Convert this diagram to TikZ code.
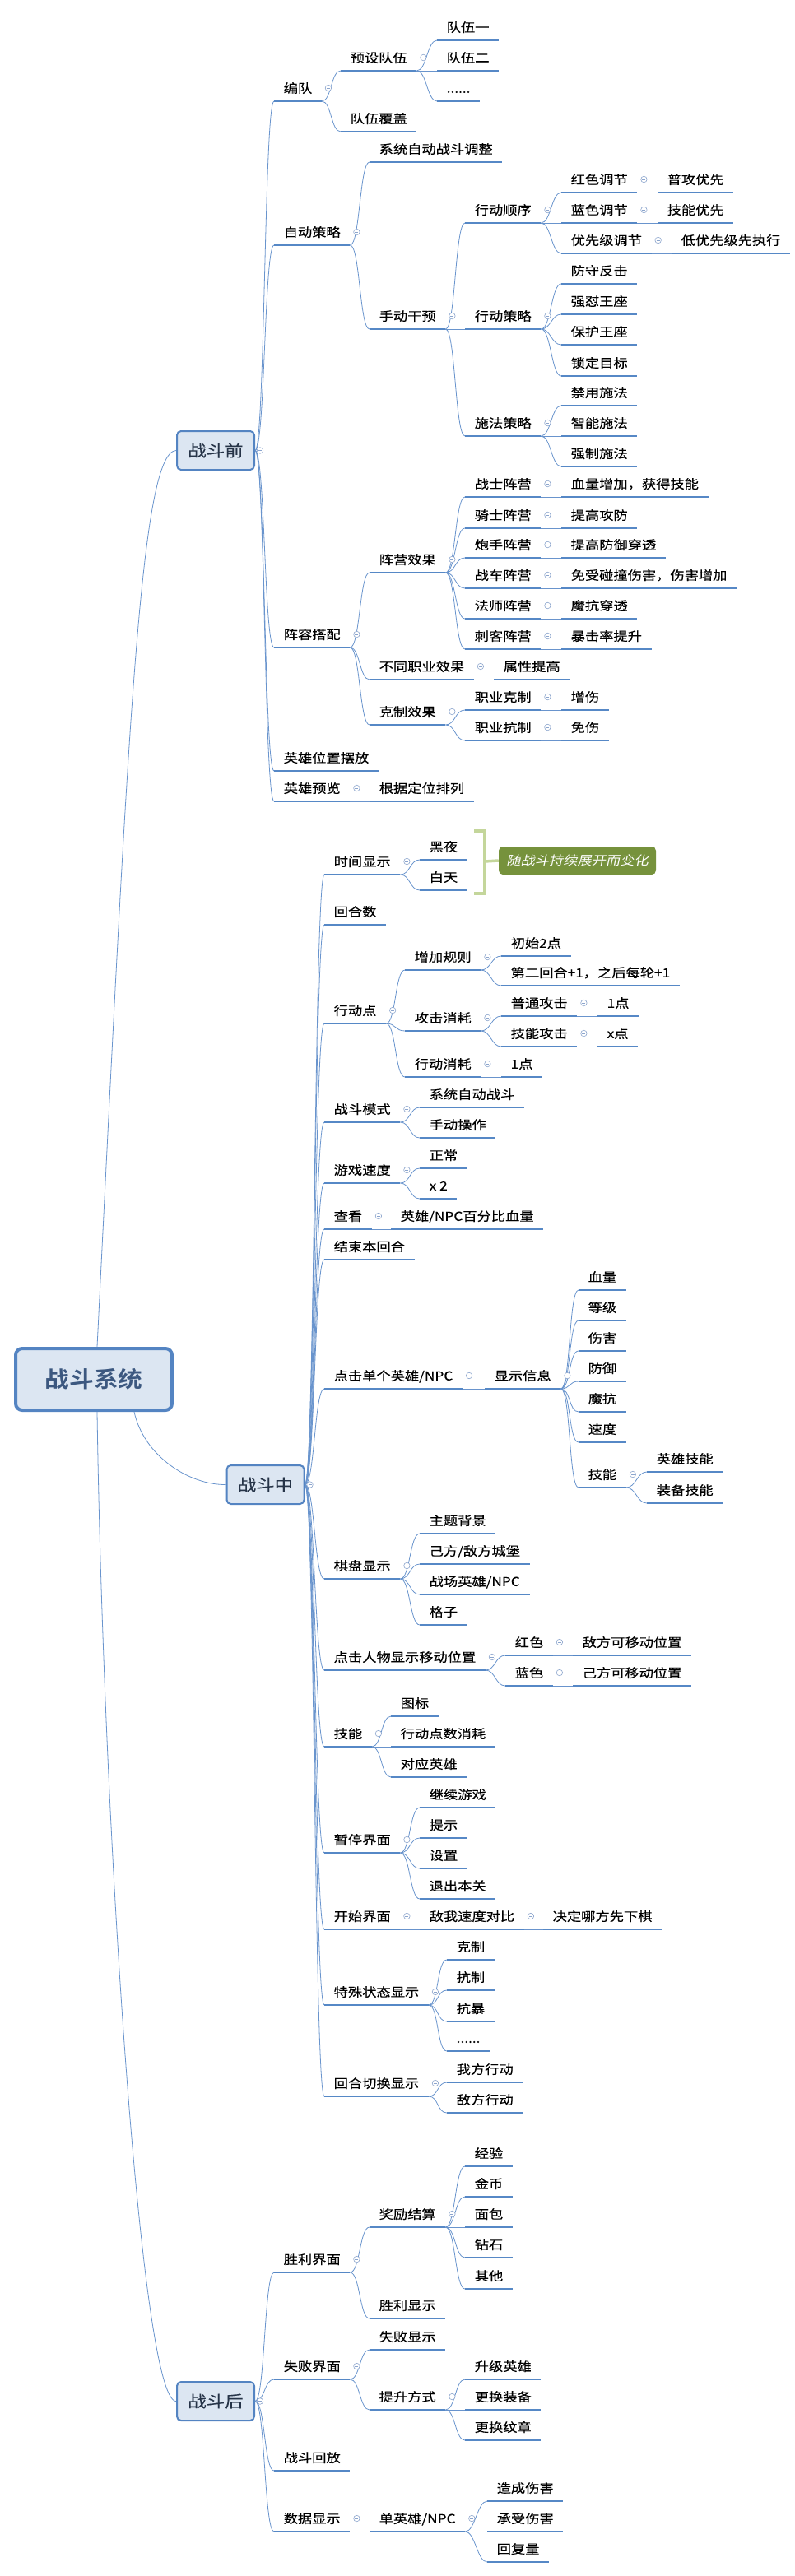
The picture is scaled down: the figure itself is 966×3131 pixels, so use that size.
\documentclass[tikz,border=0pt]{standalone}
\usepackage{fontspec}
\setmainfont{Noto Sans CJK SC}[FakeStretch=1.15,FakeBold=0.25]
\newfontfamily\slantfont{Noto Sans CJK SC}[FakeStretch=1.15,FakeSlant=0.22]
\newfontfamily\rootfont{Noto Sans CJK SC Bold}[FakeStretch=1.1]
\definecolor{ulc}{RGB}{86,136,198}
\definecolor{connc}{RGB}{105,148,205}
\definecolor{iconc}{RGB}{140,165,205}
\definecolor{boxfill}{RGB}{220,230,242}
\definecolor{boxline}{RGB}{84,132,194}
\definecolor{boxtext}{RGB}{38,52,72}
\definecolor{roottext}{RGB}{60,88,128}
\definecolor{brk}{RGB}{196,214,155}
\definecolor{olive}{RGB}{118,146,60}
\tikzset{
  uline/.style={draw=ulc, line width=2.4pt},
  item/.style={anchor=south west, inner xsep=11.5pt, inner ysep=0pt,
     text height=12pt, text depth=10pt, font=\fontsize{15}{15}\selectfont,
     append after command={(\tikzlastnode.south west) edge[uline] (\tikzlastnode.south east)}},
  conn/.style={draw=connc, line width=0.8pt},
  lvbox/.style={draw=boxline, line width=2pt, fill=boxfill, rounded corners=5pt,
     minimum width=94pt, minimum height=47pt, inner sep=0pt,
     font=\fontsize{19.5}{19.5}\selectfont, text=boxtext},
  rootbox/.style={draw=boxline, line width=4pt, fill=boxfill, rounded corners=8pt,
     minimum width=190pt, minimum height=75pt, inner sep=0pt,
     font=\rootfont\fontsize{27}{27}\selectfont, text=roottext},
  mmicon/.style={circle, draw=iconc, line width=0.6pt, fill=white, minimum size=7.5pt, inner sep=0pt,
     path picture={\draw[iconc, line width=0.6pt] ([xshift=-2pt]path picture bounding box.center) -- ([xshift=2pt]path picture bounding box.center);}},
  callout/.style={fill=olive, rounded corners=5pt, minimum width=191pt, minimum height=34pt, inner sep=0pt,
     font=\slantfont\fontsize{15}{15}\selectfont, text=white},
  bracket/.style={draw=brk, line width=3.5pt},
}
\newcommand\mmlink[2]{\draw[conn] (#1.south east) .. controls +(12,0) and +(-12,0) .. (#2.south west);}
\newcommand\mmboxlink[2]{\draw[conn] (#1.east) .. controls +(12,0) and +(-12,0) .. (#2.south west);}
\newcommand\mmic[1]{\node[mmicon] (ic-#1) at ([xshift=8pt,yshift=16pt]#1.south east) {};}
\newcommand\mmbic[1]{\node[mmicon] (ic-#1) at ([xshift=6pt]#1.east) {};}
\begin{document}
\begin{tikzpicture}[x=1pt,y=-1pt]
\fill[white] (0,0) rectangle (966,3131);
\useasboundingbox (0,0) rectangle (966,3131);

% ---------------- main boxes
\node[rootbox] (root) at (114,1676.5) {战斗系统};
\node[lvbox] (pre) at (262,547.5) {战斗前};
\node[lvbox] (mid) at (322.5,1804.5) {战斗中};
\node[lvbox] (post) at (262,2918.5) {战斗后};

\draw[conn] ([xshift=4pt]root.north) .. controls (155,900) and (170,549) .. (pre.west);
\draw[conn] ([xshift=49pt]root.south) .. controls (175,1770) and (230,1805) .. (mid.west);
\draw[conn] ([xshift=4pt]root.south) .. controls (125,2200) and (170,2919) .. (post.west);

% ---------------- 战斗前
\node[item] (a1) at (333,123) {编队};
\node[item] (a2) at (333,298) {自动策略};
\node[item] (a3) at (333,787) {阵容搭配};
\node[item] (a4) at (333,937) {英雄位置摆放};
\node[item] (a5) at (333,974) {英雄预览};
\node[item] (a11) at (414,86) {预设队伍};
\node[item] (a12) at (414,160) {队伍覆盖};
\node[item] (a111) at (531,49) {队伍一};
\node[item] (a112) at (531,86) {队伍二};
\node[item] (a113) at (531,123) {......};
\node[item] (a21) at (449,197) {系统自动战斗调整};
\node[item] (a22) at (449,400) {手动干预};
\node[item] (a221) at (565,271) {行动顺序};
\node[item] (a222) at (565,400) {行动策略};
\node[item] (a223) at (565,530) {施法策略};
\node[item] (a2211) at (682,234) {红色调节};
\node[item] (a2212) at (682,271) {蓝色调节};
\node[item] (a2213) at (682,308) {优先级调节};
\node[item] (a22111) at (799,234) {普攻优先};
\node[item] (a22121) at (799,271) {技能优先};
\node[item] (a22131) at (816,308) {低优先级先执行};
\node[item] (a2221) at (682,345) {防守反击};
\node[item] (a2222) at (682,382) {强怼王座};
\node[item] (a2223) at (682,419) {保护王座};
\node[item] (a2224) at (682,457) {锁定目标};
\node[item] (a2231) at (682,493) {禁用施法};
\node[item] (a2232) at (682,530) {智能施法};
\node[item] (a2233) at (682,567) {强制施法};
\node[item] (a31) at (449,696) {阵营效果};
\node[item] (a32) at (449,826) {不同职业效果};
\node[item] (a33) at (449,881) {克制效果};
\node[item] (a311) at (565,604) {战士阵营};
\node[item] (a312) at (565,642) {骑士阵营};
\node[item] (a313) at (565,678) {炮手阵营};
\node[item] (a314) at (565,715) {战车阵营};
\node[item] (a315) at (565,752) {法师阵营};
\node[item] (a316) at (565,789) {刺客阵营};
\node[item] (a3111) at (682,604) {血量增加，获得技能};
\node[item] (a3121) at (682,642) {提高攻防};
\node[item] (a3131) at (682,678) {提高防御穿透};
\node[item] (a3141) at (682,715) {免受碰撞伤害，伤害增加};
\node[item] (a3151) at (682,752) {魔抗穿透};
\node[item] (a3161) at (682,789) {暴击率提升};
\node[item] (a321) at (600,826) {属性提高};
\node[item] (a331) at (565,863) {职业克制};
\node[item] (a332) at (565,900) {职业抗制};
\node[item] (a3311) at (682,863) {增伤};
\node[item] (a3321) at (682,900) {免伤};
\node[item] (a51) at (449,974) {根据定位排列};

\foreach \c in {a1,a2,a3,a4,a5} {\mmboxlink{pre}{\c}}
\foreach \p/\c in {a1/a11,a1/a12,a11/a111,a11/a112,a11/a113,a2/a21,a2/a22,
  a22/a221,a22/a222,a22/a223,a221/a2211,a221/a2212,a221/a2213,
  a2211/a22111,a2212/a22121,a2213/a22131,
  a222/a2221,a222/a2222,a222/a2223,a222/a2224,a223/a2231,a223/a2232,a223/a2233,
  a3/a31,a3/a32,a3/a33,a31/a311,a31/a312,a31/a313,a31/a314,a31/a315,a31/a316,
  a311/a3111,a312/a3121,a313/a3131,a314/a3141,a315/a3151,a316/a3161,
  a32/a321,a33/a331,a33/a332,a331/a3311,a332/a3321,a5/a51} {\mmlink{\p}{\c}}

% ---------------- 战斗中
\node[item] (b1) at (394,1063) {时间显示};
\node[item] (b2) at (394,1124) {回合数};
\node[item] (b3) at (394,1244) {行动点};
\node[item] (b4) at (394,1364) {战斗模式};
\node[item] (b5) at (394,1438) {游戏速度};
\node[item] (b6) at (394,1494) {查看};
\node[item] (b7) at (394,1531) {结束本回合};
\node[item] (b8) at (394,1688) {点击单个英雄/NPC};
\node[item] (b9) at (394,1919) {棋盘显示};
\node[item] (b10) at (394,2030) {点击人物显示移动位置};
\node[item] (b11) at (394,2123) {技能};
\node[item] (b12) at (394,2252) {暂停界面};
\node[item] (b13) at (394,2345) {开始界面};
\node[item] (b14) at (394,2437) {特殊状态显示};
\node[item] (b15) at (394,2548) {回合切换显示};
\node[item] (b1a) at (510,1045) {黑夜};
\node[item] (b1b) at (510,1082) {白天};
\node[item] (b3a) at (492,1179) {增加规则};
\node[item] (b3b) at (492,1253) {攻击消耗};
\node[item] (b3c) at (492,1309) {行动消耗};
\node[item] (b3a1) at (609,1162) {初始2点};
\node[item] (b3a2) at (609,1198) {第二回合+1，之后每轮+1};
\node[item] (b3b1) at (609,1235) {普通攻击};
\node[item] (b3b2) at (609,1272) {技能攻击};
\node[item] (b3b11) at (726,1235) {1点};
\node[item] (b3b21) at (726,1272) {x点};
\node[item] (b3c1) at (609,1309) {1点};
\node[item] (b4a) at (510,1346) {系统自动战斗};
\node[item] (b4b) at (510,1383) {手动操作};
\node[item] (b5a) at (510,1420) {正常};
\node[item] (b5b) at (510,1457) {x 2};
\node[item] (b6a) at (475,1494) {英雄/NPC百分比血量};
\node[item] (b8a) at (589,1688) {显示信息};
\node[item] (b8a1) at (703,1568) {血量};
\node[item] (b8a2) at (703,1605) {等级};
\node[item] (b8a3) at (703,1642) {伤害};
\node[item] (b8a4) at (703,1679) {防御};
\node[item] (b8a5) at (703,1716) {魔抗};
\node[item] (b8a6) at (703,1753) {速度};
\node[item] (b8a7) at (703,1808) {技能};
\node[item] (b8a71) at (786,1789) {英雄技能};
\node[item] (b8a72) at (786,1827) {装备技能};
\node[item] (b9a) at (510,1864) {主题背景};
\node[item] (b9b) at (510,1901) {己方/敌方城堡};
\node[item] (b9c) at (510,1938) {战场英雄/NPC};
\node[item] (b9d) at (510,1975) {格子};
\node[item] (b10a) at (614,2012) {红色};
\node[item] (b10b) at (614,2049) {蓝色};
\node[item] (b10a1) at (696,2012) {敌方可移动位置};
\node[item] (b10b1) at (696,2049) {己方可移动位置};
\node[item] (b11a) at (475,2086) {图标};
\node[item] (b11b) at (475,2123) {行动点数消耗};
\node[item] (b11c) at (475,2160) {对应英雄};
\node[item] (b12a) at (510,2197) {继续游戏};
\node[item] (b12b) at (510,2234) {提示};
\node[item] (b12c) at (510,2271) {设置};
\node[item] (b12d) at (510,2308) {退出本关};
\node[item] (b13a) at (510,2345) {敌我速度对比};
\node[item] (b13a1) at (660,2345) {决定哪方先下棋};
\node[item] (b14a) at (543,2382) {克制};
\node[item] (b14b) at (543,2419) {抗制};
\node[item] (b14c) at (543,2457) {抗暴};
\node[item] (b14d) at (543,2493) {......};
\node[item] (b15a) at (543,2531) {我方行动};
\node[item] (b15b) at (543,2568) {敌方行动};

\foreach \c in {b1,b2,b3,b4,b5,b6,b7,b8,b9,b10,b11,b12,b13,b14,b15} {\mmboxlink{mid}{\c}}
\foreach \p/\c in {b1/b1a,b1/b1b,b3/b3a,b3/b3b,b3/b3c,b3a/b3a1,b3a/b3a2,
  b3b/b3b1,b3b/b3b2,b3b1/b3b11,b3b2/b3b21,b3c/b3c1,b4/b4a,b4/b4b,b5/b5a,b5/b5b,
  b6/b6a,b8/b8a,b8a/b8a1,b8a/b8a2,b8a/b8a3,b8a/b8a4,b8a/b8a5,b8a/b8a6,b8a/b8a7,
  b8a7/b8a71,b8a7/b8a72,b9/b9a,b9/b9b,b9/b9c,b9/b9d,b10/b10a,b10/b10b,
  b10a/b10a1,b10b/b10b1,b11/b11a,b11/b11b,b11/b11c,b12/b12a,b12/b12b,b12/b12c,b12/b12d,
  b13/b13a,b13a/b13a1,b14/b14a,b14/b14b,b14/b14c,b14/b14d,b15/b15a,b15/b15b} {\mmlink{\p}{\c}}

% summary bracket and callout
\node[callout] (sum) at (701.5,1046) {随战斗持续展开而变化};
\coordinate (brtop) at (576,1010);
\coordinate (brbot) at (576,1086);
\coordinate (brmid) at (589,1047);
\draw[bracket] (brtop) -- (589,1010) -- (589,1086) -- (brbot);
\draw[bracket] (brmid) -- (sum.west);

% ---------------- 战斗后
\node[item] (c1) at (333,2762) {胜利界面};
\node[item] (c2) at (333,2892) {失败界面};
\node[item] (c3) at (333,3003) {战斗回放};
\node[item] (c4) at (333,3077) {数据显示};
\node[item] (c11) at (449,2707) {奖励结算};
\node[item] (c12) at (449,2818) {胜利显示};
\node[item] (c111) at (565,2633) {经验};
\node[item] (c112) at (565,2670) {金币};
\node[item] (c113) at (565,2707) {面包};
\node[item] (c114) at (565,2744) {钻石};
\node[item] (c115) at (565,2782) {其他};
\node[item] (c21) at (449,2856) {失败显示};
\node[item] (c22) at (449,2929) {提升方式};
\node[item] (c221) at (565,2892) {升级英雄};
\node[item] (c222) at (565,2929) {更换装备};
\node[item] (c223) at (565,2966) {更换纹章};
\node[item] (c41) at (449,3077) {单英雄/NPC};
\node[item] (c411) at (592,3040) {造成伤害};
\node[item] (c412) at (592,3077) {承受伤害};
\node[item] (c413) at (592,3114) {回复量};

\foreach \c in {c1,c2,c3,c4} {\mmboxlink{post}{\c}}
\foreach \p/\c in {c1/c11,c1/c12,c11/c111,c11/c112,c11/c113,c11/c114,c11/c115,
  c2/c21,c2/c22,c22/c221,c22/c222,c22/c223,c4/c41,c41/c411,c41/c412,c41/c413} {\mmlink{\p}{\c}}

% ---------------- collapse icons
\mmbic{pre}\mmbic{mid}\mmbic{post}
\foreach \n in {a1,a11,a2,a22,a221,a2211,a2212,a2213,a222,a223,a3,a31,a311,a312,a313,a314,a315,a316,a32,a33,a331,a332,a5,
  b1,b3,b3a,b3b,b3b1,b3b2,b3c,b4,b5,b6,b8,b8a,b8a7,b9,b10,b10a,b10b,b11,b12,b13,b13a,b14,b15,
  c1,c11,c2,c22,c4,c41} {\mmic{\n}}
\end{tikzpicture}
\end{document}
